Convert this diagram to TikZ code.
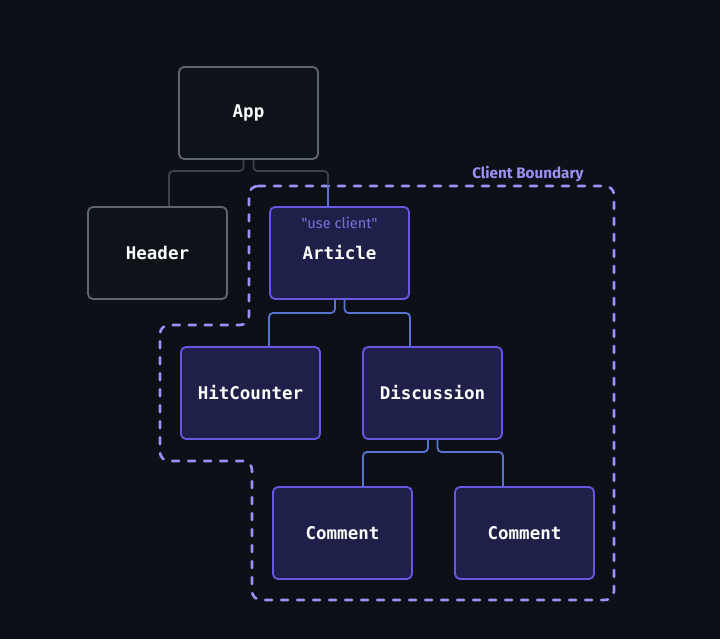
\documentclass[tikz,border=0pt]{standalone}
\usepackage{fontspec}
\setmonofont{DejaVu Sans Mono}
\newfontfamily\uisans{Fira Sans}
\definecolor{bgc}{HTML}{0D1117}
\definecolor{srvfill}{HTML}{0E131A}
\definecolor{srvline}{HTML}{5E666F}
\definecolor{cltfill}{HTML}{1E2049}
\definecolor{cltline}{HTML}{6757E2}
\definecolor{gconnc}{HTML}{3C434C}
\definecolor{bconnc}{HTML}{5873D2}
\definecolor{boundc}{HTML}{9D8FF8}
\definecolor{usecc}{HTML}{7C71D8}
\tikzset{
  x=1pt, y=-1pt,
  comp/.style={rectangle, rounded corners=5pt, minimum width=139pt, minimum height=92pt,
    inner sep=0pt, line width=1.8pt, text=white,
    font=\ttfamily\bfseries\fontsize{17.5}{20}\selectfont},
  srv/.style={comp, draw=srvline, fill=srvfill},
  clt/.style={comp, draw=cltline, fill=cltfill},
  gconn/.style={draw=gconnc, line width=1.8pt, rounded corners=4pt},
  bconn/.style={draw=bconnc, line width=1.8pt, rounded corners=4pt},
  bound/.style={draw=boundc, line width=2.6pt, dash pattern=on 7pt off 9pt, line cap=round, rounded corners=9pt},
}
\begin{document}
\begin{tikzpicture}
\fill[bgc] (0,0) rectangle (720,639);
\useasboundingbox (0,0) rectangle (720,639);

% boundary
\draw[bound] (249,186) -- (614,186) -- (614,600) -- (252,600) -- (252,461) -- (160,461) -- (160,325) -- (249,325) -- cycle;
\node[anchor=east, text=boundc, font=\uisans\bfseries\fontsize{15.2}{17}\selectfont] (cb) at (587,174) {Client Boundary};

% nodes
\node[srv] (app) at (248.5,113) {App};
\node[srv] (header) at (157.5,253) {Header};
\node[clt] (article) at (339.5,253) {};
\node[text=white, font=\ttfamily\bfseries\fontsize{17.5}{20}\selectfont] (articlelbl) at (339.5,253) {Article};
\node[text=usecc, font=\uisans\fontsize{14.6}{16}\selectfont] (usec) at (339.5,223) {"use client"};
\node[clt] (hit) at (250.5,393) {HitCounter};
\node[clt] (disc) at (432.5,393) {Discussion};
\node[clt] (com1) at (342.5,533) {Comment};
\node[clt] (com2) at (524.5,533) {Comment};

% connectors App
\draw[gconn] ([xshift=-5pt]app.south) |- (169,171) -- (169,0 |- header.north);
\draw[gconn] ([xshift=5pt]app.south) |- (328,171) -- (328,0 |- article.north);
\coordinate (cross) at (328,185);
\draw[draw=bconnc, line width=1.8pt] (cross) -- (328,0 |- article.north);

% connectors Article
\draw[bconn] ([xshift=-4.5pt]article.south) |- (269,313) -- (269,0 |- hit.north);
\draw[bconn] ([xshift=5pt]article.south) |- (410,313) -- (410,0 |- disc.north);

% connectors Discussion
\draw[bconn] ([xshift=-4.5pt]disc.south) |- (363,452) -- (363,0 |- com1.north);
\draw[bconn] ([xshift=5pt]disc.south) |- (503,452) -- (503,0 |- com2.north);
\end{tikzpicture}
\end{document}
